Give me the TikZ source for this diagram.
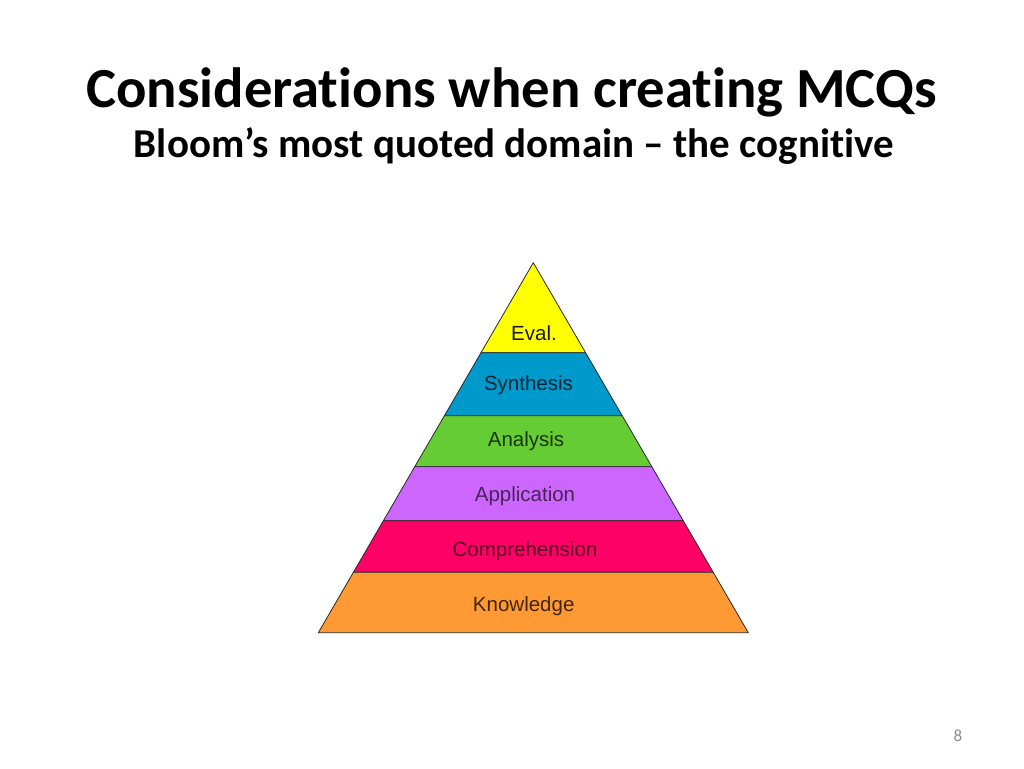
\documentclass[tikz,border=0pt]{standalone}
\usepackage{fontspec}
\setmainfont{Carlito}[Ligatures=NoCommon]
\newfontfamily\labelfont{Liberation Sans}
\usepackage{tikz}
\usetikzlibrary{calc}
\usepackage{xcolor}
\definecolor{cEval}{RGB}{255,255,0}
\definecolor{cSynth}{RGB}{0,153,204}
\definecolor{cAnal}{RGB}{102,204,51}
\definecolor{cAppl}{RGB}{204,102,255}
\definecolor{cComp}{RGB}{255,0,102}
\definecolor{cKnow}{RGB}{255,153,51}
\definecolor{cEdge}{RGB}{40,40,40}
\definecolor{cPage}{RGB}{140,140,140}

\begin{document}
\begin{tikzpicture}[x=1pt, y=-1pt,
  level/.style={font=\labelfont\fontsize{20.5}{22}\selectfont, anchor=base},
  tier/.style={draw=cEdge, line width=0.8pt, line join=round}]
  \useasboundingbox (0,0) rectangle (1024,768);
  \fill[white] (0,0) rectangle (1024,768);
  % heading
  \node[font=\bfseries\fontsize{56.7}{60}\selectfont, anchor=base] (title) at (511.5,107) {Considerations when creating MCQs};
  \node[font=\bfseries\fontsize{41}{44}\selectfont, anchor=base] (subtitle) at (514,157) {Bloom’s most quoted domain -- the cognitive};
  % pyramid corners
  \coordinate (apex) at (533.3,262.7);
  \coordinate (bl) at (318.3,632.7);
  \coordinate (br) at (748.3,632.7);
  % tiers, top to bottom
  \filldraw[tier, fill=cEval] (apex) -- ($(apex)!0.2432!(br)$) -- ($(apex)!0.2432!(bl)$) -- cycle;
  \filldraw[tier, fill=cSynth] ($(apex)!0.2432!(bl)$) -- ($(apex)!0.2432!(br)$) -- ($(apex)!0.4135!(br)$) -- ($(apex)!0.4135!(bl)$) -- cycle;
  \filldraw[tier, fill=cAnal] ($(apex)!0.4135!(bl)$) -- ($(apex)!0.4135!(br)$) -- ($(apex)!0.5514!(br)$) -- ($(apex)!0.5514!(bl)$) -- cycle;
  \filldraw[tier, fill=cAppl] ($(apex)!0.5514!(bl)$) -- ($(apex)!0.5514!(br)$) -- ($(apex)!0.6973!(br)$) -- ($(apex)!0.6973!(bl)$) -- cycle;
  \filldraw[tier, fill=cComp] ($(apex)!0.6973!(bl)$) -- ($(apex)!0.6973!(br)$) -- ($(apex)!0.8368!(br)$) -- ($(apex)!0.8368!(bl)$) -- cycle;
  \filldraw[tier, fill=cKnow] ($(apex)!0.8368!(bl)$) -- ($(apex)!0.8368!(br)$) -- (br) -- (bl) -- cycle;
  % tier labels
  \node[level, text=black!90] (eval) at (534,340) {Eval.};
  \node[level, text=cSynth!25!black] (synth) at (528.5,390) {Synthesis};
  \node[level, text=cAnal!25!black] (anal) at (526,446) {Analysis};
  \node[level, text=cAppl!35!black] (appl) at (525,501) {Application};
  \node[level, text=cComp!35!black] (comp) at (525,556) {Comprehension};
  \node[level, text=cKnow!25!black] (know) at (523.7,611) {Knowledge};
  % slide number
  \node[font=\fontsize{17}{19}\selectfont, text=cPage, anchor=base] (pagenum) at (958,741) {8};
\end{tikzpicture}
\end{document}
